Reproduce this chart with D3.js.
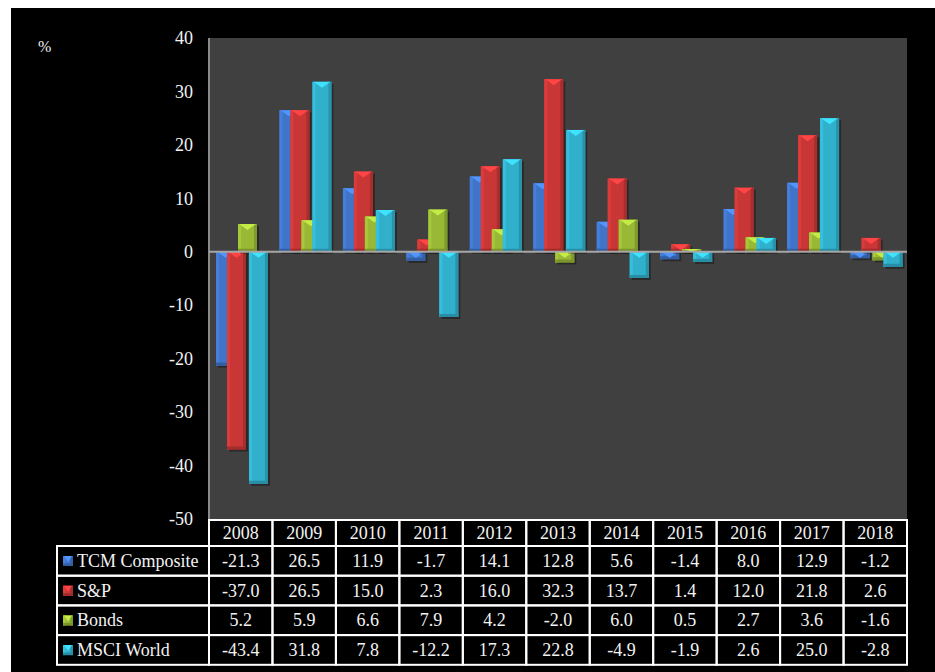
<!DOCTYPE html>
<html>
<head>
<meta charset="utf-8">
<script src="https://cdn.jsdelivr.net/npm/d3@7"></script>
<style>
  body { margin: 0; background: #fff; }
  svg { display: block; }
  text { font-family: "Liberation Serif", "Times New Roman", serif; fill: #f2f2f2; }
</style>
</head>
<body>
<div class="chart"></div>
<script>
// Data
const years = ["2008", "2009", "2010", "2011", "2012", "2013", "2014", "2015", "2016", "2017", "2018"];
const seriesNames = ["TCM Composite", "S&P", "Bonds", "MSCI World"];
const tcm = [-21.3, 26.5, 11.9, -1.7, 14.1, 12.8, 5.6, -1.4, 8.0, 12.9, -1.2];
const sp = [-37.0, 26.5, 15.0, 2.3, 16.0, 32.3, 13.7, 1.4, 12.0, 21.8, 2.6];
const bonds = [5.2, 5.9, 6.6, 7.9, 4.2, -2.0, 6.0, 0.5, 2.7, 3.6, -1.6];
const msci = [-43.4, 31.8, 7.8, -12.2, 17.3, 22.8, -4.9, -1.9, 2.6, 25.0, -2.8];
const yTicks = [-50, -40, -30, -20, -10, 0, 10, 20, 30, 40];

const seriesValues = [tcm, sp, bonds, msci];
const colors = ["#3f74c8", "#c93636", "#98b836", "#31b0cc"];

const WIDTH = 935, HEIGHT = 672;
const PLOT = { left: 209, right: 907, top: 38, bottom: 519 };

const svg = d3.select(".chart").append("svg")
    .attr("width", WIDTH)
    .attr("height", HEIGHT);

// black page with white strip top/left
svg.append("rect")
    .attr("x", 11).attr("y", 8)
    .attr("width", WIDTH - 11).attr("height", HEIGHT - 8)
    .attr("fill", "#000");

// Scales
const x = d3.scaleBand().domain(years).range([PLOT.left, PLOT.right]);
const y = d3.scaleLinear().domain([-50, 40]).range([PLOT.bottom, PLOT.top]);

// plot area
svg.append("rect")
    .attr("x", PLOT.left).attr("y", PLOT.top)
    .attr("width", PLOT.right - PLOT.left).attr("height", PLOT.bottom - PLOT.top)
    .attr("fill", "#404040");

// y axis labels (no ticks, plain hyphen minus)
const yAxis = d3.axisLeft(y).tickValues(yTicks).tickSize(0).tickPadding(16)
    .tickFormat(d => String(d));
const yG = svg.append("g")
    .attr("transform", `translate(${PLOT.left},0)`)
    .call(yAxis);
yG.select(".domain").remove();
yG.selectAll("text")
    .attr("font-size", 18)
    .attr("font-family", "Liberation Serif, serif")
    .attr("fill", "#f2f2f2");

// left axis line
svg.append("line")
    .attr("x1", PLOT.left).attr("x2", PLOT.left)
    .attr("y1", PLOT.top).attr("y2", PLOT.bottom)
    .attr("stroke", "#8a8a8a").attr("stroke-width", 2);

svg.append("text")
    .attr("x", 38).attr("y", 52)
    .attr("font-size", 16)
    .text("%");

// Bars with bevel look
const BAR_W = 19, BAR_STEP = 11, BAR_OFF = 7;

function shade(c, k) {
    return k > 0 ? d3.color(c).brighter(k).formatHex() : d3.color(c).darker(-k).formatHex();
}

function bevelBar(g, bx, by, bw, bh, c) {
    // drop shadow
    g.append("rect")
        .attr("x", bx + 2).attr("y", by + 2)
        .attr("width", bw).attr("height", bh)
        .attr("fill", "#000").attr("opacity", 0.35);
    g.append("rect")
        .attr("x", bx).attr("y", by)
        .attr("width", bw).attr("height", bh)
        .attr("fill", c);
    const e = Math.min(3, bw / 4, bh / 2);
    // left edge lighter, right edge darker
    g.append("rect")
        .attr("x", bx).attr("y", by)
        .attr("width", e).attr("height", bh)
        .attr("fill", shade(c, 0.25));
    g.append("rect")
        .attr("x", bx + bw - e).attr("y", by)
        .attr("width", e).attr("height", bh)
        .attr("fill", shade(c, -0.5));
    // bottom strip darker
    g.append("rect")
        .attr("x", bx).attr("y", by + bh - e)
        .attr("width", bw).attr("height", e)
        .attr("fill", shade(c, -0.6));
    // top triangle lighter
    const th = Math.min(6, bh);
    g.append("path")
        .attr("d", d3.line()([[bx + 1, by], [bx + bw - 1, by], [bx + bw / 2, by + th]]) + "Z")
        .attr("fill", shade(c, 0.7));
}

seriesValues.forEach((vals, si) => {
    const g = svg.append("g").attr("class", "series-" + si);
    vals.forEach((v, i) => {
        const bx = x(years[i]) + BAR_OFF + si * BAR_STEP;
        const y0 = y(Math.max(v, 0));
        const y1 = y(Math.min(v, 0));
        bevelBar(g, bx, y0, BAR_W, Math.max(1, y1 - y0), colors[si]);
    });
});

// zero line
svg.append("line")
    .attr("x1", PLOT.left).attr("x2", PLOT.right)
    .attr("y1", y(0)).attr("y2", y(0))
    .attr("stroke", "#a6a6a6").attr("stroke-width", 2);

// Data table
const T = { left: 57, headTop: 520, headBottom: 546, rowH: 29.7 };
const tbl = svg.append("g").attr("class", "table");

// header cells
years.forEach(yr => {
    tbl.append("rect")
        .attr("x", x(yr)).attr("y", T.headTop)
        .attr("width", x.bandwidth()).attr("height", T.headBottom - T.headTop)
        .attr("fill", "none").attr("stroke", "#fff").attr("stroke-width", 2);
    tbl.append("text")
        .attr("x", x(yr) + x.bandwidth() / 2).attr("y", T.headBottom - 7)
        .attr("text-anchor", "middle").attr("font-size", 18)
        .text(yr);
});

seriesNames.forEach((name, si) => {
    const ry = T.headBottom + si * T.rowH;
    tbl.append("rect")
        .attr("x", T.left).attr("y", ry)
        .attr("width", PLOT.left - T.left).attr("height", T.rowH)
        .attr("fill", "none").attr("stroke", "#fff").attr("stroke-width", 2);
    const lg = tbl.append("g");
    bevelBar(lg, 63, ry + 10, 10, 10, colors[si]);
    tbl.append("text")
        .attr("x", 77).attr("y", ry + 21)
        .attr("font-size", 18)
        .text(name);
    seriesValues[si].forEach((v, i) => {
        tbl.append("rect")
            .attr("x", x(years[i])).attr("y", ry)
            .attr("width", x.bandwidth()).attr("height", T.rowH)
            .attr("fill", "none").attr("stroke", "#fff").attr("stroke-width", 2);
        tbl.append("text")
            .attr("x", x(years[i]) + x.bandwidth() / 2).attr("y", ry + 21)
            .attr("text-anchor", "middle").attr("font-size", 18)
            .text(v.toFixed(1));
    });
});
</script>
</body>
</html>
